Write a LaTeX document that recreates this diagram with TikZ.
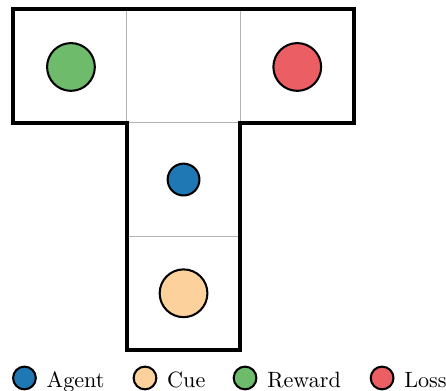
\documentclass[tikz,border=0pt]{standalone}
\usepackage{amsmath}
\usepackage{amssymb}
\usepackage{tikz}
\usepackage{xcolor}

\definecolor{agentblue}{HTML}{1F77B4}
\definecolor{cueorange}{HTML}{FDD19B}
\definecolor{rewardgreen}{HTML}{6DBB6B}
\definecolor{lossred}{HTML}{EB5E64}

\begin{document}
\begin{tikzpicture}[x=1.95cm, y=1.95cm,
    token/.style={circle, draw, line width=1pt, inner sep=0pt},
    big/.style={token, minimum size=0.42*1.95cm},
    small/.style={token, minimum size=0.28*1.95cm},
    legdot/.style={token, minimum size=0.2*1.95cm},
    legtext/.style={inner sep=0pt, anchor=base west, font=\fontsize{10.8pt}{13pt}\selectfont}]
                \useasboundingbox (-0.114,0.079) rectangle (3.808,-3.351);
                % cells
                \draw[gray!60, line width=0.5pt] (1,0) -- (1,-1);
                \draw[gray!60, line width=0.5pt] (2,0) -- (2,-1);
                \draw[gray!60, line width=0.5pt] (1,-1) -- (2,-1);
                \draw[gray!60, line width=0.5pt] (1,-2) -- (2,-2);
                % maze walls
                \draw[line width=2pt] (0,0) -- (3,0) -- (3,-1) -- (2,-1) -- (2,-3)
                    -- (1,-3) -- (1,-1) -- (0,-1) -- cycle;

                \node[big, fill=rewardgreen] (R) at (0.51,-0.51) {};
                \node[big, fill=lossred] (L) at (2.5,-0.51) {};
                \node[small, fill=agentblue] (A) at (1.5,-1.5) {};
                \node[big, fill=cueorange] (C) at (1.5,-2.5) {};

                % legend
                \node[legdot, fill=agentblue] (LA) at (0.101,-3.245) {};
                \node[legdot, fill=cueorange] (LC) at (1.161,-3.245) {};
                \node[legdot, fill=rewardgreen] (LR) at (2.041,-3.245) {};
                \node[legdot, fill=lossred] (LL) at (3.246,-3.245) {};
                \node[legtext] (tA) at ([xshift=4.6pt, yshift=-4.8pt]LA.east) {Agent};
                \node[legtext] (tC) at ([xshift=4.6pt, yshift=-4.8pt]LC.east) {Cue};
                \node[legtext] (tR) at ([xshift=4.6pt, yshift=-4.8pt]LR.east) {Reward};
                \node[legtext] (tL) at ([xshift=4.6pt, yshift=-4.8pt]LL.east) {Loss};
            \end{tikzpicture}
\end{document}
